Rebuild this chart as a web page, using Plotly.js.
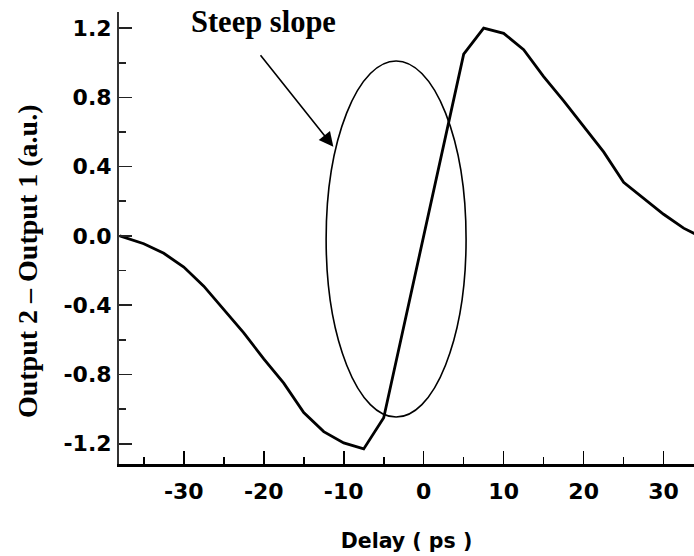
<!DOCTYPE html>
<html>
<head>
<meta charset="utf-8">
<script src="https://cdn.plot.ly/plotly-3.0.1.min.js"></script>
<style>html,body{margin:0;padding:0;background:#fff;}#chart{width:694px;height:556px;}</style>
</head>
<body>
<div id="chart"></div>
<script>
// Data
var delay = [-38, -35, -32.5, -30, -27.5, -25, -22.5, -20, -17.5, -15, -12.5, -10, -7.5, -5, -2.5, 0, 2.5, 5, 7.5, 10, 12.5, 15, 17.5, 20, 22.5, 25, 27.5, 30, 32.5, 34];
var diffOutput = [0.0, -0.045, -0.10, -0.18, -0.29, -0.425, -0.56, -0.71, -0.85, -1.02, -1.13, -1.195, -1.23, -1.05, -0.52, 0.0, 0.53, 1.05, 1.20, 1.17, 1.075, 0.92, 0.78, 0.635, 0.485, 0.31, 0.215, 0.125, 0.045, 0.01];

var xTickVals = [-30, -20, -10, 0, 10, 20, 30];
var xTickText = ['-30', '-20', '-10', '0', '10', '20', '30'];
var yTickVals = [-1.2, -0.8, -0.4, 0.0, 0.4, 0.8, 1.2];
var yTickText = ['-1.2', '-0.8', '-0.4', '0.0', '0.4', '0.8', '1.2'];

var xTitle = 'Delay ( ps )';
var yTitle = 'Output 2 \u2013 Output 1 (a.u.)';
var noteText = 'Steep slope';

var trace = {
  x: delay,
  y: diffOutput,
  type: 'scatter',
  mode: 'lines',
  line: {color: '#000', width: 2.8},
  hoverinfo: 'skip',
  showlegend: false
};

var sansBold = '"DejaVu Sans", sans-serif';
var serif = '"Liberation Serif", "Times New Roman", serif';

var layout = {
  width: 694,
  height: 556,
  margin: {l: 119, r: 0, t: 12, b: 92},
  paper_bgcolor: '#fff',
  plot_bgcolor: '#fff',
  showlegend: false,
  xaxis: {
    range: [-38.1, 33.8],
    tickmode: 'array',
    tickvals: xTickVals,
    ticktext: xTickText,
    ticks: 'inside',
    ticklen: 13,
    tickwidth: 1.6,
    tickcolor: '#000',
    minor: {dtick: 5, tick0: 0, ticks: 'inside', ticklen: 7, tickwidth: 1.6, tickcolor: '#000', showgrid: false},
    showline: true,
    linecolor: '#000',
    linewidth: 2.5,
    showgrid: false,
    zeroline: false,
    tickfont: {family: sansBold, size: 22, color: '#000', weight: 'bold'},
    ticklabelstandoff: 6,
    title: {text: xTitle, font: {family: sansBold, size: 20.5, color: '#000', weight: 'bold'}, standoff: 31}
  },
  yaxis: {
    range: [-1.317, 1.293],
    tickmode: 'array',
    tickvals: yTickVals,
    ticktext: yTickText,
    ticks: 'inside',
    ticklen: 13,
    tickwidth: 1.6,
    tickcolor: '#222',
    minor: {dtick: 0.2, tick0: 0, ticks: 'inside', ticklen: 7, tickwidth: 1.6, tickcolor: '#222', showgrid: false},
    showline: true,
    linecolor: '#333',
    linewidth: 2,
    showgrid: false,
    zeroline: false,
    tickfont: {family: sansBold, size: 22, color: '#000', weight: 'bold'},
    ticklabelstandoff: 1
  },
  shapes: [{
    type: 'circle',
    xref: 'x', yref: 'y',
    x0: -12.2, x1: 5.3,
    y0: -1.046, y1: 1.010,
    line: {color: '#000', width: 1.6},
    fillcolor: 'rgba(0,0,0,0)'
  }],
  annotations: [
    {
      xref: 'paper', yref: 'paper',
      x: -0.16, y: 0.449,
      xanchor: 'center', yanchor: 'middle',
      textangle: -90,
      text: yTitle,
      showarrow: false,
      font: {family: serif, size: 28, color: '#000', weight: 'bold'}
    },
    {
      xref: 'paper', yref: 'paper',
      x: 0.251, y: 0.978,
      xanchor: 'center', yanchor: 'middle',
      text: noteText,
      showarrow: false,
      font: {family: serif, size: 30.5, color: '#000', weight: 'bold'}
    },
    {
      xref: 'x', yref: 'y',
      x: -11.3, y: 0.515,
      ax: -74, ay: -93,
      text: '',
      showarrow: true,
      arrowhead: 2,
      arrowsize: 1.8,
      arrowwidth: 1.6,
      arrowcolor: '#000'
    }
  ]
};

Plotly.newPlot('chart', [trace], layout, {staticPlot: true, displayModeBar: false});
</script>
</body>
</html>
